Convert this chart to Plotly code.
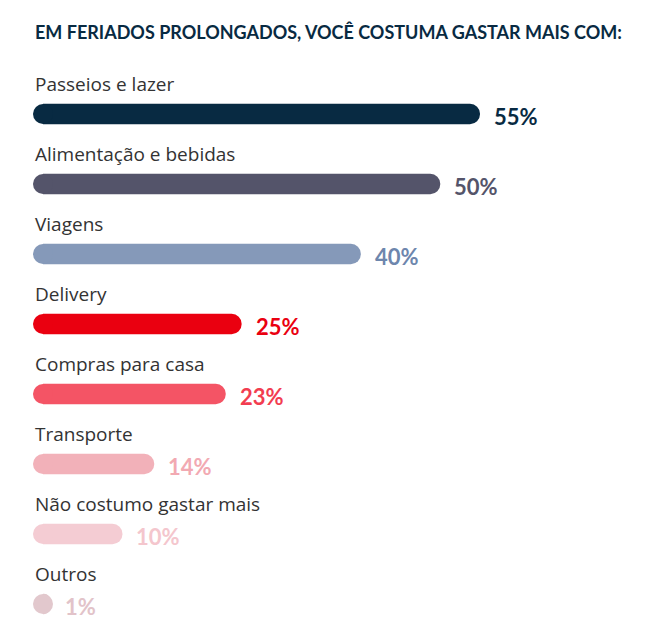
import plotly.graph_objects as go

categories = ["Passeios e lazer", "Alimentação e bebidas", "Viagens", "Delivery",
              "Compras para casa", "Transporte", "Não costumo gastar mais", "Outros"]
values = [55, 50, 40, 25, 23, 14, 10, 1]
bar_colors = ["#082a42", "#54546a", "#8599b9", "#ea0010", "#f45465", "#f2b1b9", "#f4ccd3", "#e2c8cd"]
text_colors = ["#082a42", "#54546a", "#6d86ad", "#ea0010", "#f23d50", "#f2a9b2", "#f4c6cd", "#e2c3c9"]

idx = list(range(len(categories)))

fig = go.Figure(go.Bar(
    x=values, y=idx, orientation="h", width=0.29,
    marker=dict(color=bar_colors, cornerradius=10, line_width=0),
    hoverinfo="skip",
))
# round left ends
fig.add_trace(go.Scatter(
    x=[0] * len(idx), y=idx, mode="markers", hoverinfo="skip", cliponaxis=False,
    marker=dict(size=20, color=bar_colors, line_width=0),
))

for i, (cat, v) in enumerate(zip(categories, values)):
    fig.add_annotation(x=0, y=i, text=cat, xanchor="left", yanchor="middle", yshift=30,
                       xshift=-10, showarrow=False,
                       font=dict(family="Open Sans", size=19, color="#333333"))
    fig.add_annotation(x=v, y=i, text=f"<b>{v}%</b>", xanchor="left", yanchor="middle",
                       xshift=12, yshift=-2, showarrow=False,
                       font=dict(family="Lato", size=22, color=text_colors[i]))

fig.add_annotation(x=0, y=1, xref="paper", yref="paper", xshift=-10, yshift=-24,
                   text="<b>EM FERIADOS PROLONGADOS, VOCÊ COSTUMA GASTAR MAIS COM:</b>",
                   xanchor="left", yanchor="middle", showarrow=False,
                   font=dict(family="Lato", size=18, color="#082a42"))

r0 = -106 / 70
fig.update_layout(
    width=665, height=644, margin=dict(l=35, r=0, t=0, b=0),
    plot_bgcolor="white", paper_bgcolor="white", showlegend=False,
    xaxis=dict(range=[0, 55 * 630 / 437], visible=False),
    yaxis=dict(range=[r0 + 644 / 70, r0], visible=False),
)
fig.write_html("out.html")
